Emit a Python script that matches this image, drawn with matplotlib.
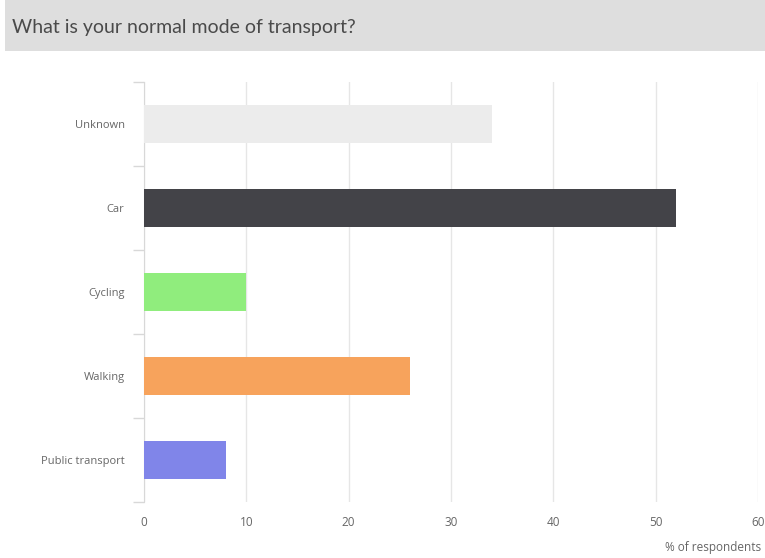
import matplotlib
matplotlib.use("Agg")
import matplotlib.pyplot as plt
from matplotlib.patches import Rectangle

categories = ["Unknown", "Car", "Cycling", "Walking", "Public transport"]
values = [34, 52, 10, 26, 8]
colors = ["#ececec", "#434348", "#90ed7d", "#f7a35c", "#8085e9"]
xticks = [0, 10, 20, 30, 40, 50, 60]

plt.rcParams['font.family'] = ['Open Sans', 'DejaVu Sans']

W, H = 765, 558
fig = plt.figure(figsize=(W/100, H/100), dpi=100)
fig.patch.set_facecolor("white")

# title bar
fig.patches.append(Rectangle((5/W, 1-51/H), 1-5/W, 51/H, transform=fig.transFigure,
                             facecolor="#dedede", edgecolor="none", zorder=0))
fig.text(12/W, 1-27/H, "What is your normal mode of transport?", fontsize=14,
         color="#4a4a4a", va="center", ha="left", family=["Lato", "DejaVu Sans"])

ax = fig.add_axes([144/W, 1-502/H, (758-144)/W, (502-82)/H])
y = list(range(len(categories)))
ax.barh(y, values, height=0.45, color=colors, zorder=3)
ax.set_ylim(len(categories)-0.5, -0.5)
ax.set_xlim(0, 60)
ax.set_xticks(xticks)
ax.set_xticklabels([str(t) for t in xticks])
ax.set_yticks(y)
ax.set_yticklabels(categories)
ax.set_yticks([i - 0.5 for i in range(len(categories)+1)], minor=True)
ax.tick_params(axis="y", which="major", length=0, pad=14, labelsize=8, labelcolor="#666666")
ax.tick_params(axis="y", which="minor", length=8, color="#d8d8d8", width=1)
ax.tick_params(axis="x", length=0, pad=10, labelsize=8.5, labelcolor="#666666")
ax.grid(axis="x", color="#e6e6e6", linewidth=1, zorder=0)
for s in ["top", "right", "bottom"]:
    ax.spines[s].set_visible(False)
ax.spines["left"].set_color("#d8d8d8")
ax.set_axisbelow(True)
fig.text(761/W, 1-547/H, "% of respondents", fontsize=8.5, color="#666666",
         ha="right", va="center")

fig.savefig("out.png", dpi=100)
